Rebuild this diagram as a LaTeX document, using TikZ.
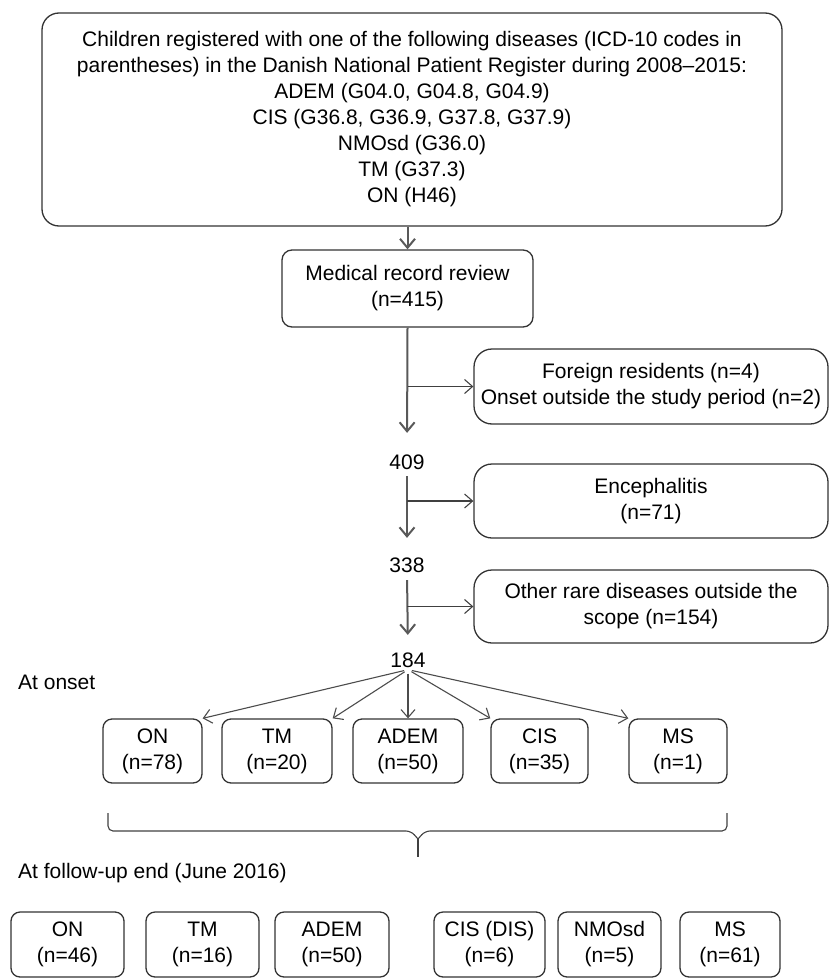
\documentclass[tikz,border=0pt]{standalone}
\usepackage{fontspec}
\setmainfont{Liberation Sans}
\usetikzlibrary{arrows.meta,positioning}

\tikzset{
  box/.style={draw=black!80, line width=1.3pt, rounded corners=#1, align=center,
    inner sep=2pt, font=\fontsize{21}{26}\selectfont},
  box/.default=9pt,
  num/.style={inner sep=2pt, font=\fontsize{21}{26}\selectfont},
  mainarr/.style={draw=black!65, line width=2pt, -{Straight Barb[length=9pt,width=15pt]}},
  sidearr/.style={draw=black!75, line width=1.1pt, -{Straight Barb[length=8pt,width=14pt]}},
  fanarr/.style={draw=black!70, line width=1.1pt, -{Straight Barb[length=8pt,width=14pt]}},
  brc/.style={draw=black!75, line width=1.1pt}
}

\begin{document}
\begin{tikzpicture}[x=1pt, y=-1pt]
\useasboundingbox (0,0) rectangle (830,979);

\node[box=17pt, minimum width=740pt, minimum height=213pt] (Reg) at (412,119.5) {Children registered with one of the following diseases (ICD-10 codes in\\ parentheses) in the Danish National Patient Register during 2008–2015:\\ ADEM (G04.0, G04.8, G04.9)\\ CIS (G36.8, G36.9, G37.8, G37.9)\\ NMOsd (G36.0)\\ TM (G37.3)\\ ON (H46)};
\node[box=10pt, minimum width=251pt, minimum height=77pt] (Rev) at (407.5,288.5) {Medical record review\\ (n=415)};
%============
\node[box=18pt, minimum width=354pt, minimum height=75pt] (Frn) at (651,386.5) {Foreign residents (n=4)\\ Onset outside the study period (n=2)};
\node[num] (N409) at (407,462) {409};
\node[box=18pt, minimum width=354pt, minimum height=74pt] (Enc) at (651,501) {Encephalitis\\ (n=71)};
\node[num] (N338) at (407,565) {338};
\node[box=18pt, minimum width=354pt, minimum height=73pt] (Oth) at (651,606.5) {Other rare diseases outside the\\ scope (n=154)};
\node[num] (N184) at (408,660) {184};
%============
\node[num, anchor=west] (Ons) at (16,682) {At onset};
\node[box, minimum width=99pt, minimum height=64pt] (ON1) at (152.5,751) {ON\\ (n=78)};
\node[box, minimum width=110pt, minimum height=64pt] (TM1) at (277,751) {TM\\ (n=20)};
\node[box, minimum width=110pt, minimum height=64pt] (AD1) at (408,751) {ADEM\\ (n=50)};
\node[box, minimum width=97pt, minimum height=64pt] (CI1) at (539.5,751) {CIS\\ (n=35)};
\node[box, minimum width=98pt, minimum height=64pt] (MS1) at (678,751) {MS\\ (n=1)};
%============
\node[num, anchor=west] (Fol) at (16,873) {At follow-up end (June 2016)};
\node[box, minimum width=113pt, minimum height=65pt] (ON2) at (67.5,944.5) {ON\\ (n=46)};
\node[box, minimum width=113pt, minimum height=65pt] (TM2) at (202.5,944.5) {TM\\ (n=16)};
\node[box, minimum width=114pt, minimum height=65pt] (AD2) at (332,944.5) {ADEM\\ (n=50)};
\node[box, minimum width=111pt, minimum height=65pt] (CI2) at (489.5,944.5) {CIS (DIS)\\ (n=6)};
\node[box, minimum width=103pt, minimum height=65pt] (NM2) at (609.5,944.5) {NMOsd\\ (n=5)};
\node[box, minimum width=100pt, minimum height=65pt] (MS2) at (730,944.5) {MS\\ (n=61)};
%==========

            \draw[mainarr] (Rev.north |- Reg.south) -- (Rev.north);
            \draw[mainarr, shorten >=19.5pt] (Rev.south) -- (N409.north);
            \draw[sidearr] (Rev.south |- Frn.west) -- (Frn.west);

            \draw[mainarr, shorten <=4.5pt, shorten >=17.5pt] (N409.south) -- (N338.north);
            \draw[sidearr] (N409.south |- Enc.west) -- (Enc.west);

            \draw[mainarr, shorten <=5.5pt, shorten >=15.5pt] (N338.south) -- (N184.north);
            \draw[sidearr] (N338.south |- Oth.west) -- (Oth.west);

            \foreach \t in {ON1.north east, TM1.north east, AD1.north, CI1.north west, MS1.north west}
              \draw[fanarr, shorten <=4pt] (N184.south) -- (\t);

            % brace between onset and follow-up
            \coordinate (BrL) at (108,813);
            \coordinate (BrR) at (727,813);
            \coordinate (BrM) at (418,839);
            \coordinate (BrT) at (418,857);
            \draw[brc, rounded corners=5pt] (BrL) -- (108,831) -- (411,831) -- (BrM);
            \draw[brc, rounded corners=5pt] (BrM) -- (425,831) -- (727,831) -- (BrR);
            \draw[brc] (BrM) -- (BrT);

\end{tikzpicture}
\end{document}
